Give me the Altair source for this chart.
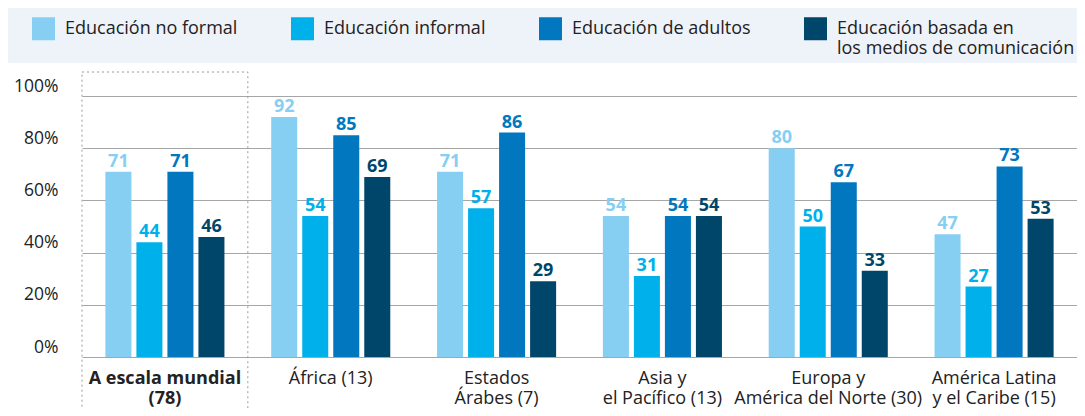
import altair as alt
import pandas as pd

# ---- data ----
types = [
    "Educación no formal",
    "Educación informal",
    "Educación de adultos",
    "Educación basada en los medios de comunicación",
]
colors = ["#86CFF3", "#00B0EA", "#0077BF", "#00466A"]
region_lines = [
    ["A escala mundial", "(78)"],
    ["África (13)"],
    ["Estados", "Árabes (7)"],
    ["Asia y", "el Pacífico (13)"],
    ["Europa y", "América del Norte (30)"],
    ["América Latina", "y el Caribe (15)"],
]
no_formal = [71, 92, 71, 54, 80, 47]
informal = [44, 54, 57, 31, 50, 27]
adultos = [71, 85, 86, 54, 67, 73]
medios = [46, 69, 29, 54, 33, 53]
y_ticks = [0, 20, 40, 60, 80, 100]

regions = ["\n".join(l) for l in region_lines]
series = [no_formal, informal, adultos, medios]

rows = []
for t, vals in zip(types, series):
    for r, v in zip(regions, vals):
        rows.append({"region": r, "type": t, "value": v})
df = pd.DataFrame(rows)
df_box = pd.DataFrame({"region": [regions[0]]})
df_band = pd.DataFrame({"k": [0]})

W, H = 1069, 261
FONT = "Open Sans"
TXT = "#222222"

x_scale = alt.Scale(domain=regions, range=[74, 1069], paddingInner=0, paddingOuter=0)
xoff = alt.XOffset("type:N", sort=types,
                   scale=alt.Scale(domain=types, paddingInner=0.161, paddingOuter=0.754))
y_scale = alt.Scale(domain=[0, 100])

x_axis = alt.Axis(
    labelExpr="split(datum.label, '\\n')",
    labelFontWeight={"condition": {"test": "indexof(datum.value, 'mundial') >= 0", "value": "bold"},
                     "value": "normal"},
    labelFontSize=18, labelLineHeight=20, labelPadding=12, labelColor=TXT,
    labelAngle=0, labelLimit=400, domain=False, ticks=False, grid=False, title=None,
)
y_axis = alt.Axis(
    values=y_ticks, labelExpr="datum.value + '%'", grid=True, gridColor="#a6a6a6",
    gridWidth=1.2, domain=False, ticks=False, tickSize=0, labelPadding=-50,
    labelAlign="right", labelBaseline="alphabetic", labelOffset=-5,
    labelFontSize=17.5, labelColor=TXT, title=None,
)

legend = alt.Legend(
    orient="none", legendX=24, legendY=-79, direction="horizontal", columns=4,
    columnPadding=53, gridAlign="each", symbolType="square", symbolSize=529,
    symbolStrokeWidth=0, symbolOpacity=1, labelFontSize=18, labelColor=TXT,
    labelLimit=400, labelOffset=10, title=None, padding=0,
    labelExpr="datum.label == 'Educación basada en los medios de comunicación' ? "
              "['Educación basada en', 'los medios de comunicación'] : [datum.label, '']",
)
color = alt.Color("type:N", sort=types, scale=alt.Scale(domain=types, range=colors), legend=legend)

band = alt.Chart(df_band).mark_rect(color="#EEF2F9").encode(
    x=alt.value(-1), x2=alt.value(W), y=alt.value(-88), y2=alt.value(-33)
)

box = alt.Chart(df_box).mark_rect(
    fillOpacity=0, stroke="#9a9a9a", strokeWidth=1, strokeDash=[2, 3]
).encode(
    x=alt.X("region:N", scale=x_scale, axis=x_axis),
    y=alt.value(-24), y2=alt.value(330),
)

bars = alt.Chart(df).mark_bar().encode(
    x=alt.X("region:N", scale=x_scale, axis=x_axis),
    xOffset=xoff,
    y=alt.Y("value:Q", scale=y_scale, axis=y_axis),
    color=color,
)

labels = alt.Chart(df).mark_text(
    dy=-5, baseline="alphabetic", fontWeight="bold", fontSize=18
).encode(
    x=alt.X("region:N", scale=x_scale, axis=x_axis),
    xOffset=xoff,
    y=alt.Y("value:Q", scale=y_scale, axis=y_axis),
    text=alt.Text("value:Q"),
    color=color,
)

chart = alt.layer(band, box, bars, labels).properties(
    width=W, height=H,
    autosize=alt.AutoSizeParams(type="none"),
    padding={"left": 0, "top": 88, "right": 0, "bottom": 51},
).configure(font=FONT).configure_view(stroke=None)

chart.save("out.html", embed_options={"renderer": "svg", "actions": False})
